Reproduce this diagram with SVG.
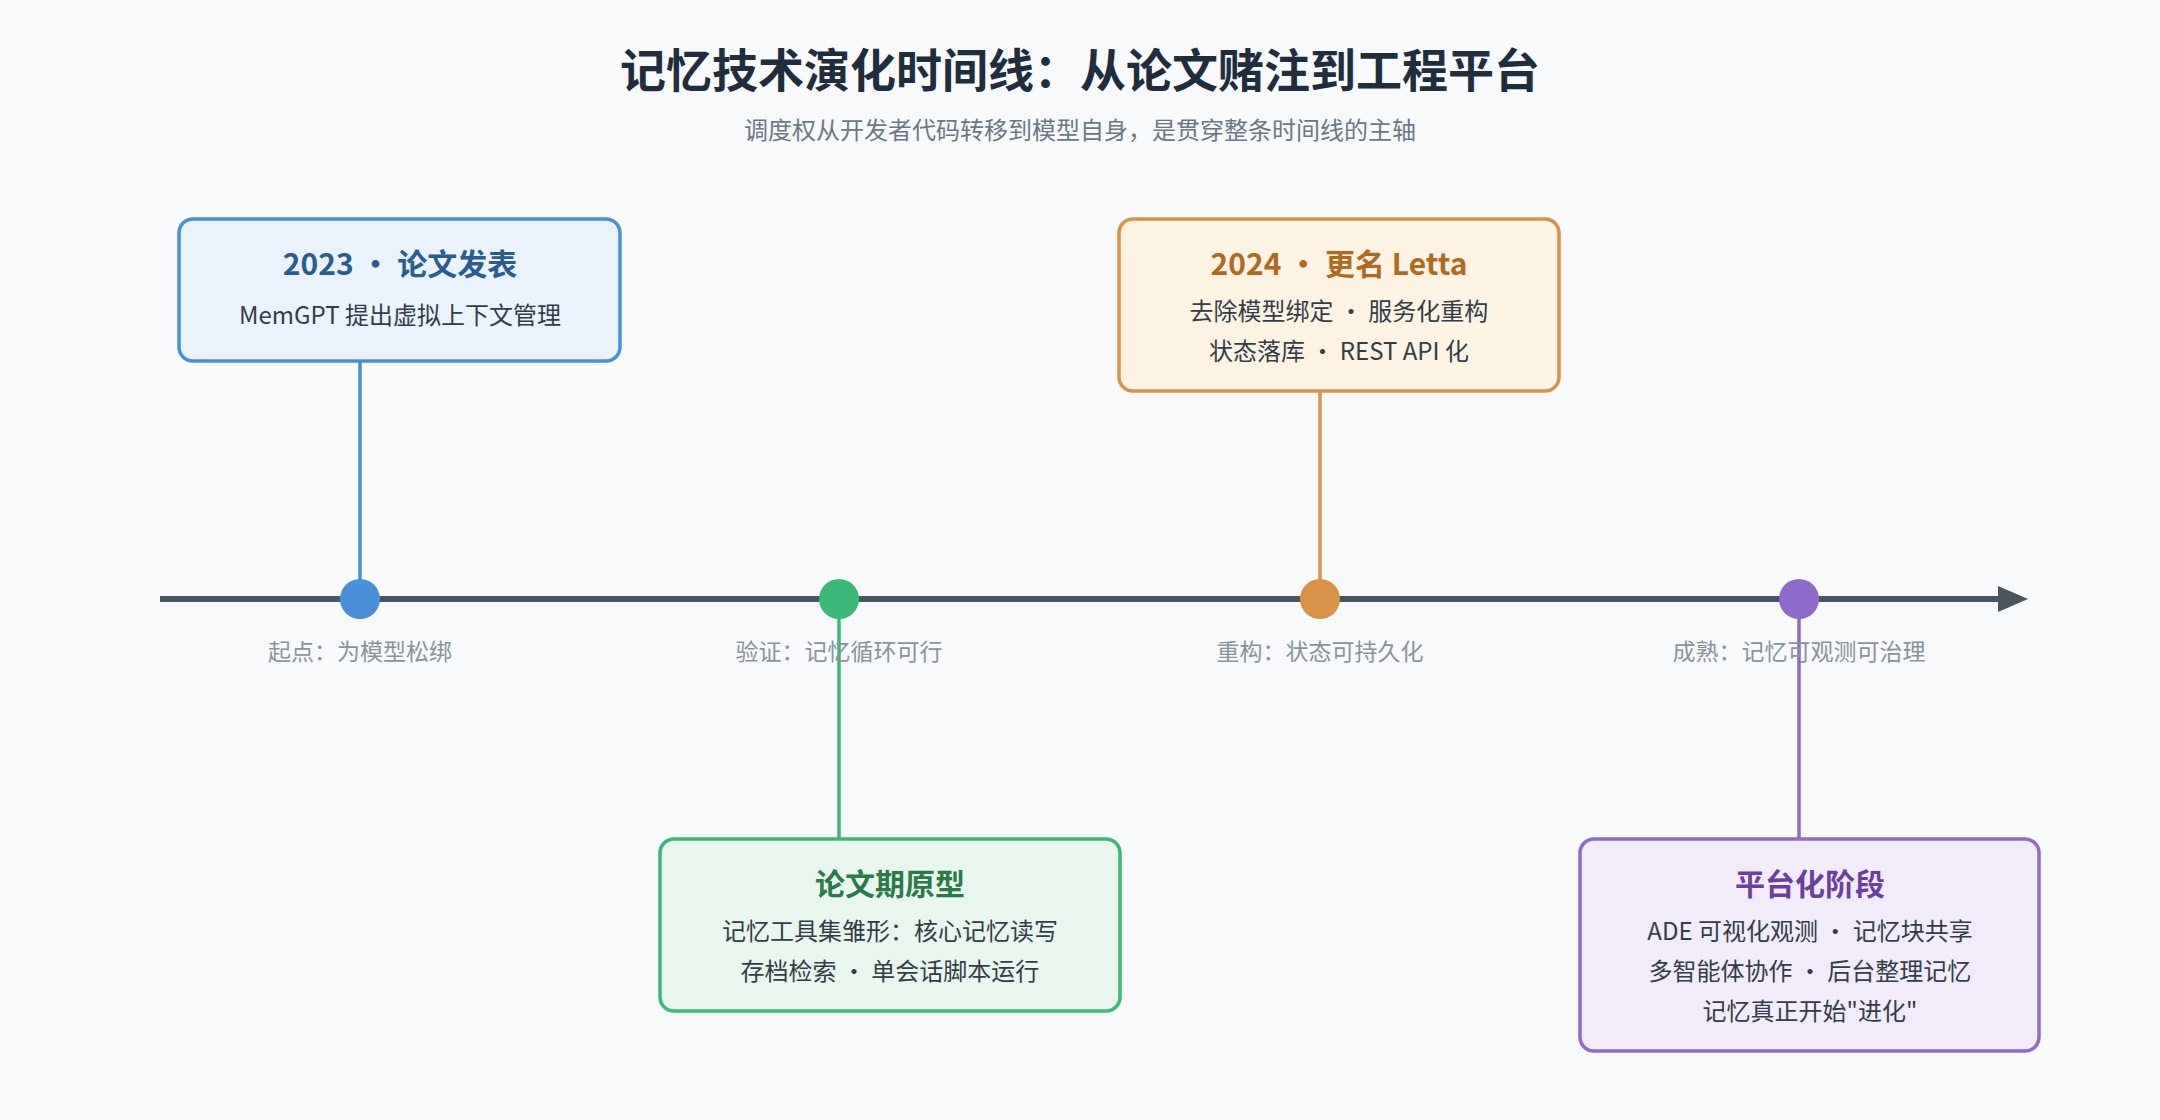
<svg xmlns="http://www.w3.org/2000/svg" width="2160" height="1120" viewBox="0 0 2160 1120">
<style>
text{font-family:"Noto Sans CJK SC","Noto Sans","Liberation Sans",sans-serif;text-anchor:middle}
.t{font-size:46px;font-weight:bold;fill:#1f2d3d}
.sub{font-size:24px;fill:#6b7785}
.lbl{font-size:23px;fill:#8a939c}
.bt{font-size:30px;font-weight:bold}
.bl{font-size:24px;fill:#333d47}
.c{stroke-width:3.5;fill:none}
</style>
<defs><marker id="ah" markerWidth="10" markerHeight="10" refX="0" refY="5" orient="auto" markerUnits="userSpaceOnUse"><path d="M0,0 L0,10 L1,5 Z" fill="#4a5560"/></marker></defs>
<rect width="2160" height="1120" fill="#f7f9fb"/>
<text class="t" x="1080" y="87">记忆技术演化时间线：从论文赌注到工程平台</text>
<text class="sub" x="1080" y="139">调度权从开发者代码转移到模型自身，是贯穿整条时间线的主轴</text>
<g id="timeline">
<line x1="160" y1="599" x2="2000" y2="599" stroke="#4a5560" stroke-width="6"/>
<path d="M1998,586 L2028,599 L1998,612 Z" fill="#4a5560"/>
</g>
<g id="connectors">
<line class="c" x1="360" y1="361" x2="360" y2="599" stroke="#4a90d9"/>
<line class="c" x1="1320" y1="391" x2="1320" y2="599" stroke="#d9924a"/>
<line class="c" x1="839" y1="599" x2="839" y2="839" stroke="#3cb878"/>
<line class="c" x1="1799" y1="599" x2="1799" y2="839" stroke="#8e6acb"/>
</g>
<g id="labels">
<text class="lbl" x="360" y="660">起点：为模型松绑</text>
<text class="lbl" x="839" y="660">验证：记忆循环可行</text>
<text class="lbl" x="1320" y="660">重构：状态可持久化</text>
<text class="lbl" x="1799" y="660">成熟：记忆可观测可治理</text>
</g>
<g id="dots">
<circle cx="360" cy="599" r="20" fill="#4a90d9"/>
<circle cx="839" cy="599" r="20" fill="#3cb878"/>
<circle cx="1320" cy="599" r="20" fill="#d9924a"/>
<circle cx="1799" cy="599" r="20" fill="#8e6acb"/>
</g>
<g id="n2023">
<rect x="179" y="219" width="441" height="142" rx="14" fill="#eaf2fc" stroke="#4a90d9" stroke-width="3.5"/>
<text class="bt" x="400" y="275" fill="#2a5d8f">2023 • 论文发表</text>
<text class="bl" x="400" y="324">MemGPT 提出虚拟上下文管理</text>
</g>
<g id="n2024">
<rect x="1119" y="219" width="440" height="172" rx="14" fill="#fdf3e3" stroke="#d9924a" stroke-width="3.5"/>
<text class="bt" x="1339" y="275" fill="#b06a1e">2024 • 更名 Letta</text>
<text class="bl" x="1339" y="320">去除模型绑定 · 服务化重构</text>
<text class="bl" x="1339" y="360">状态落库 · REST API 化</text>
</g>
<g id="proto">
<rect x="660" y="839" width="460" height="172" rx="14" fill="#e9f6ee" stroke="#3cb878" stroke-width="3.5"/>
<text class="bt" x="890" y="895" fill="#2a7a4a">论文期原型</text>
<text class="bl" x="890" y="940">记忆工具集雏形：核心记忆读写</text>
<text class="bl" x="890" y="980">存档检索 · 单会话脚本运行</text>
</g>
<g id="platform">
<rect x="1580" y="839" width="459" height="212" rx="14" fill="#f1ebfa" stroke="#8e6acb" stroke-width="3.5"/>
<text class="bt" x="1810" y="895" fill="#6a3f9e">平台化阶段</text>
<text class="bl" x="1810" y="940">ADE 可视化观测 · 记忆块共享</text>
<text class="bl" x="1810" y="980">多智能体协作 · 后台整理记忆</text>
<text class="bl" x="1810" y="1020">记忆真正开始"进化"</text>
</g>
</svg>
